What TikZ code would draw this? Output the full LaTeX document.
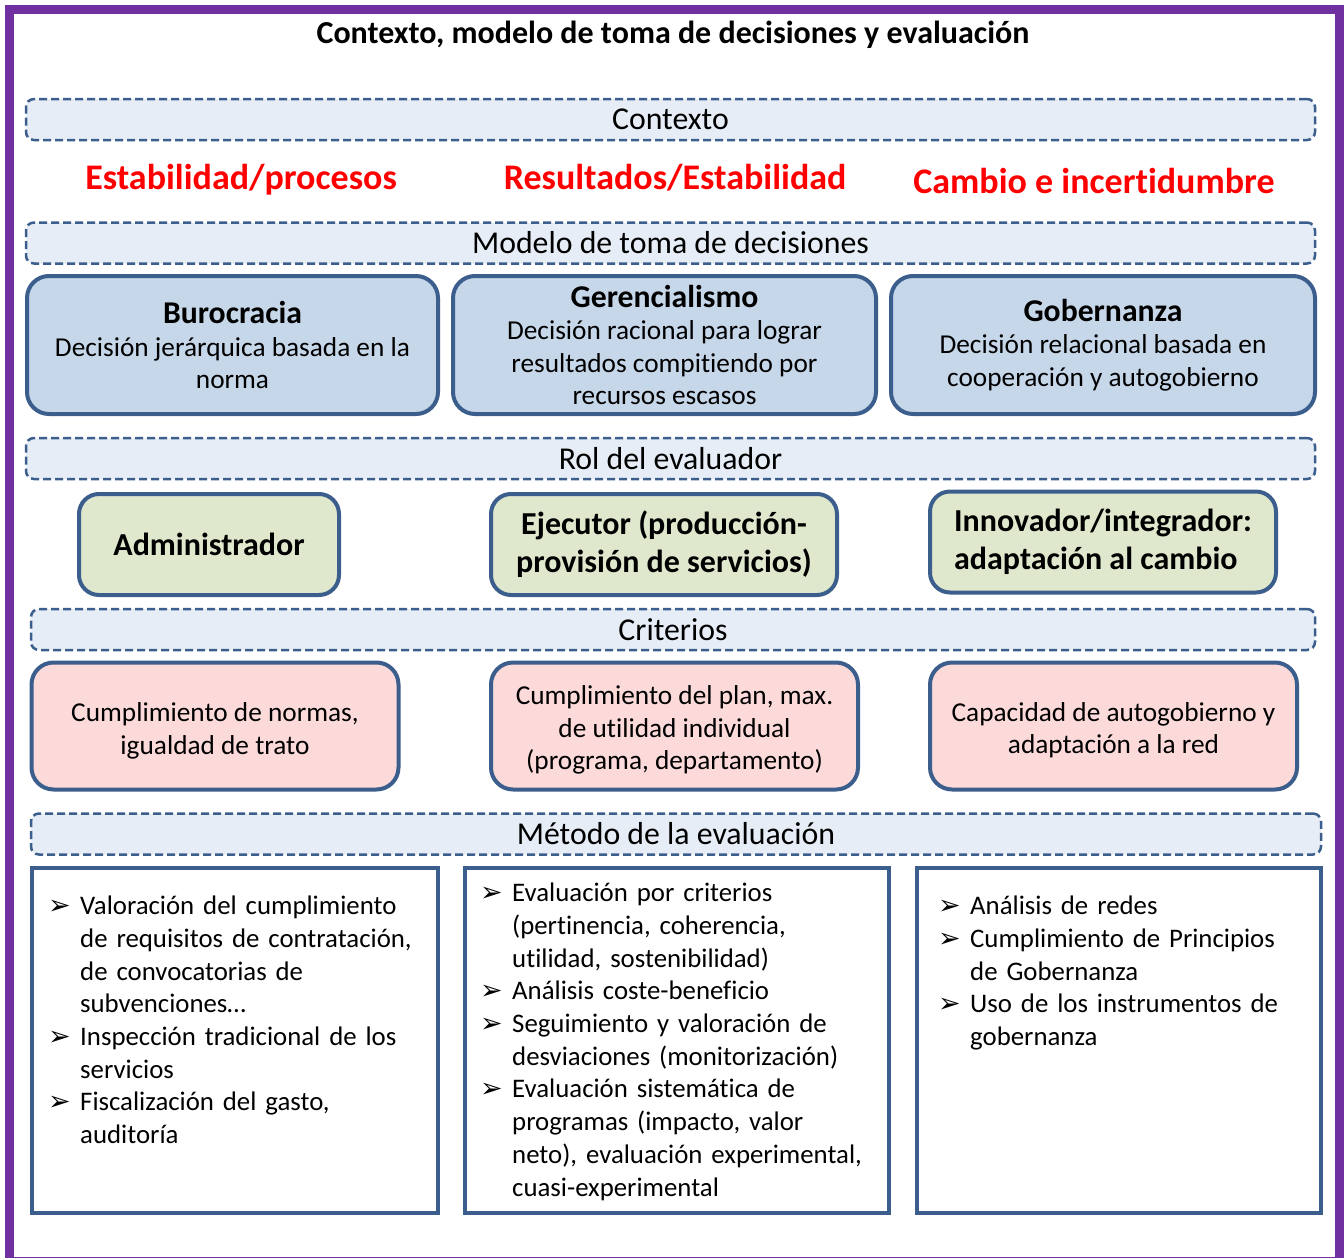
\documentclass[tikz,border=0pt]{standalone}
\usepackage{fontspec}
\setmainfont{Carlito}[Ligatures=NoCommon]
\newfontfamily\flechafont{DejaVu Sans}
\usepackage{xcolor}
\usepackage{tikz}
\usetikzlibrary{positioning,shapes}
\definecolor{borde}{HTML}{3C5E8C}
\definecolor{marco}{HTML}{7030A0}
\definecolor{fondobarra}{HTML}{E6EDF6}
\definecolor{fondoazul}{HTML}{C7D7EA}
\definecolor{fondoverde}{HTML}{DFE8CD}
\definecolor{fondorosa}{HTML}{FCDADA}
% bullet with hanging indent
\newcommand{\vineta}[1]{\par\noindent\hangindent=30pt\hangafter=1%
    \makebox[30pt][l]{\hspace{-2pt}\flechafont\fontsize{27}{20}\selectfont ➢}#1\par}
\tikzset{
    barra/.style={
        rectangle,
        rounded corners=8pt,
        draw=borde, line width=2.5pt,
        dash pattern=on 8pt off 4pt,
        fill=fondobarra,
        minimum height=41pt,
        inner sep=0pt,
        font={\fontsize{31.8pt}{34}\selectfont}
    },
    titulo/.style={
        font={\fontsize{36pt}{40}\selectfont\bfseries},
        text=red
    },
    modelo/.style={
        rectangle,
        rounded corners=22pt,
        draw=borde, line width=4pt,
        fill=fondoazul,
        minimum height=138pt,
        align=center,
        font={\fontsize{27.3pt}{32.5}\selectfont}
    },
    rolbox/.style={
        rectangle,
        rounded corners=20pt,
        draw=borde, line width=4pt,
        fill=fondoverde,
        minimum height=101pt,
        font={\fontsize{32pt}{38}\selectfont\bfseries}
    },
    criterio/.style={
        rectangle,
        rounded corners=22pt,
        draw=borde, line width=4pt,
        fill=fondorosa,
        minimum width=367pt,
        minimum height=127pt
    },
    criteriotexto/.style={
        align=center,
        font={\fontsize{27.3pt}{32.5}\selectfont}
    },
    metodo/.style={
        rectangle,
        draw=borde, line width=4pt,
        minimum height=345pt
    },
    lista/.style={
        anchor=base west,
        inner sep=0pt,
        text width=400pt,
        align=left,
        font={\fontsize{26.8pt}{32.7}\selectfont}
    },
}

\begin{document}
\begin{tikzpicture}[x=1pt,y=-1pt]
\useasboundingbox (0,0) rectangle (1344,1258);
\draw[marco, line width=9pt] (9.5,9.5) rectangle (1339.5,1261.5);
\node[font={\fontsize{32pt}{36}\selectfont\bfseries}] (tit) at (673,35)
    {Contexto, modelo de toma de decisiones y evaluación};
% contexto
\node[barra, minimum width=1289pt] (ctx) at (670.5,119.5) {Contexto};
\node[titulo] (est) at (241,180) {Estabilidad/procesos};
\node[titulo] (res) at (675,178) {Resultados/Estabilidad};
\node[titulo] (cam) at (1094,181) {Cambio e incertidumbre};
% modelo de toma de decisiones
\node[barra, minimum width=1289pt] (mdl) at (670.5,243) {Modelo de toma de decisiones};
\node[modelo, minimum width=411pt] (buro) at (232.5,345)
    {{\fontsize{31.7pt}{36}\selectfont\bfseries Burocracia}\\Decisión jerárquica basada en la\\norma};
\node[modelo, minimum width=423pt] (ger) at (664.5,345)
    {{\fontsize{31.7pt}{36}\selectfont\bfseries Gerencialismo}\\Decisión racional para lograr\\resultados compitiendo por\\recursos escasos};
\node[modelo, minimum width=424pt] (gob) at (1103,345)
    {{\fontsize{31.7pt}{36}\selectfont\bfseries Gobernanza}\\Decisión relacional basada en\\cooperación y autogobierno};
% rol del evaluador
\node[barra, minimum width=1289pt] (rol) at (670.5,458.5) {Rol del evaluador};
\node[rolbox, minimum width=260pt] (adm) at (209,544.5) {Administrador};
\node[rolbox, minimum width=346pt, align=center] (eje) at (664,544.5)
    {Ejecutor (producción-\\provisión de servicios)};
\node[rolbox, minimum width=346pt, align=left] (inn) at (1103,542)
    {Innovador/integrador:\\adaptación al cambio};
% criterios
\node[barra, minimum width=1284pt] (cri) at (673,629.5) {Criterios};
\node[criterio] (cn1) at (215,726) {};
\node[criterio] (cn2) at (674.5,726) {};
\node[criterio] (cn3) at (1113.5,726) {};
\node[criteriotexto] (tx1) at (215,731) {Cumplimiento de normas,\\igualdad de trato};
\node[criteriotexto] (tx2) at (674.5,730) {Cumplimiento del plan, max.\\de utilidad individual\\(programa, departamento)};
\node[criteriotexto] (tx3) at (1113.5,730) {Capacidad de autogobierno y\\adaptación a la red};
% metodo de la evaluacion
\node[barra, minimum width=1290pt] (met) at (676,834) {Método de la evaluación};
\node[metodo, minimum width=406pt] (m1) at (235,1040.5) {};
\node[metodo, minimum width=424pt] (m2) at (677,1040.5) {};
\node[metodo, minimum width=404pt] (m3) at (1119,1040.5) {};
\node[lista] (l1) at (50,882) {%
    \vineta{Valoración del cumplimiento\newline de requisitos de contratación,\newline de convocatorias de\newline subvenciones…}%
    \vineta{Inspección tradicional de los\newline servicios}%
    \vineta{Fiscalización del gasto,\newline auditoría}};
\node[lista] (l2) at (482,869) {%
    \vineta{Evaluación por criterios\newline (pertinencia, coherencia,\newline utilidad, sostenibilidad)}%
    \vineta{Análisis coste-beneficio}%
    \vineta{Seguimiento y valoración de\newline desviaciones (monitorización)}%
    \vineta{Evaluación sistemática de\newline programas (impacto, valor\newline neto), evaluación experimental,\newline cuasi-experimental}};
\node[lista] (l3) at (940,882) {%
    \vineta{Análisis de redes}%
    \vineta{Cumplimiento de Principios\newline de Gobernanza}%
    \vineta{Uso de los instrumentos de\newline gobernanza}};
\end{tikzpicture}
\end{document}
